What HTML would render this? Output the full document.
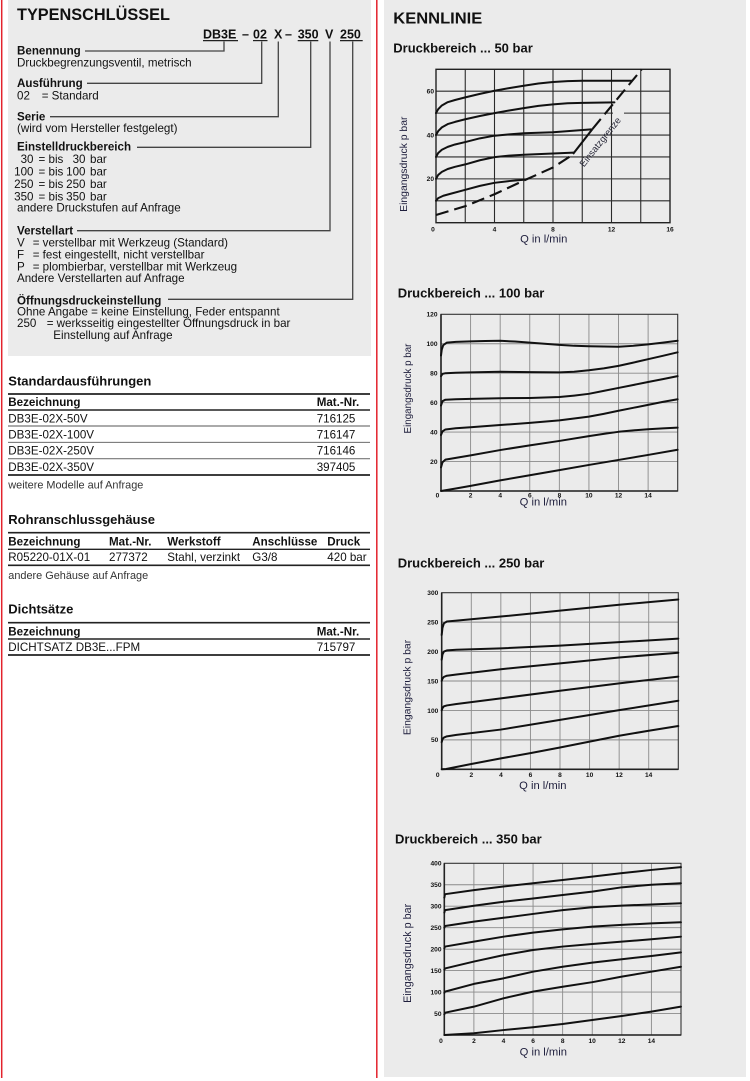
<!DOCTYPE html>
<html><head><meta charset="utf-8"><style>
html,body{margin:0;padding:0;background:#fff;}
svg{display:block;}
text{font-family:"Liberation Sans",Arial,sans-serif;fill:#111;}
.b{font-weight:bold;}
.t{font-size:11.6px;}
.tk{font-size:6.6px;font-weight:bold;}
.ax{font-size:11.2px;fill:#1e1e3c;}
.yl{fill:#1e1e3c;}
.cv{fill:none;stroke:#111;stroke-width:2;stroke-linejoin:round;stroke-linecap:round;}
.g1{stroke:#2a2a2a;stroke-width:1.1;}
.g2{stroke:#8a8a8a;stroke-width:0.9;}
.cn{stroke:#444;stroke-width:1.3;fill:none;}
</style></head><body>
<svg width="750" height="1081" viewBox="0 0 750 1081" xmlns="http://www.w3.org/2000/svg">
<rect x="0" y="0" width="750" height="1081" fill="#fff"/>
<!-- panels -->
<rect x="8" y="0" width="363" height="356" fill="#ebebeb"/>
<rect x="384" y="0" width="362" height="1077" fill="#ebebeb"/>
<line x1="1.7" y1="0" x2="1.7" y2="1078" stroke="#e3222c" stroke-width="1.5"/>
<line x1="376.8" y1="0" x2="376.8" y2="1078" stroke="#e3222c" stroke-width="1.5"/>

<!-- TYPENSCHLÜSSEL -->
<text x="17" y="20" class="b" font-size="16.3">TYPENSCHLÜSSEL</text>
<g class="b" font-size="12.5">
<text x="203" y="38.3">DB3E</text>
<text x="242" y="38.3">–</text>
<text x="253" y="38.3">02</text>
<text x="274" y="38.3">X</text>
<text x="285" y="38.3">–</text>
<text x="297.7" y="38.3">350</text>
<text x="325" y="38.3">V</text>
<text x="340" y="38.3">250</text>
</g>
<g stroke="#222" stroke-width="1.2">
<line x1="203" y1="40.6" x2="238" y2="40.6"/>
<line x1="253" y1="40.6" x2="267.5" y2="40.6"/>
<line x1="297.7" y1="40.6" x2="318.3" y2="40.6"/>
<line x1="340" y1="40.6" x2="362.7" y2="40.6"/>
</g>
<!-- connectors -->
<polyline class="cn" points="85,51 224,51 224,41.5"/>
<polyline class="cn" points="87,83.3 261.7,83.3 261.7,41.5"/>
<polyline class="cn" points="50,116.7 278.3,116.7 278.3,41.5"/>
<polyline class="cn" points="137,147.3 310.7,147.3 310.7,41.5"/>
<polyline class="cn" points="77,230.7 330,230.7 330,41.5"/>
<polyline class="cn" points="168,299.3 352.7,299.3 352.7,41.5"/>

<g class="t">
<text x="17" y="54.5" class="b">Benennung</text>
<text x="17" y="66.5">Druckbegrenzungsventil, metrisch</text>
<text x="17" y="87" class="b">Ausführung</text>
<text x="17" y="99.5">02</text><text x="41.7" y="99.5">= Standard</text>
<text x="17" y="120.5" class="b">Serie</text>
<text x="17" y="132">(wird vom Hersteller festgelegt)</text>
<text x="17" y="150.5" class="b">Einstelldruckbereich</text>
<text x="33.5" y="163" text-anchor="end">30</text><text x="38.5" y="163">= bis</text><text x="85.5" y="163" text-anchor="end">30</text><text x="90" y="163">bar</text>
<text x="33.5" y="175.5" text-anchor="end">100</text><text x="38.5" y="175.5">= bis</text><text x="85.5" y="175.5" text-anchor="end">100</text><text x="90" y="175.5">bar</text>
<text x="33.5" y="188" text-anchor="end">250</text><text x="38.5" y="188">= bis</text><text x="85.5" y="188" text-anchor="end">250</text><text x="90" y="188">bar</text>
<text x="33.5" y="200.3" text-anchor="end">350</text><text x="38.5" y="200.3">= bis</text><text x="85.5" y="200.3" text-anchor="end">350</text><text x="90" y="200.3">bar</text>
<text x="17" y="211.5">andere Druckstufen auf Anfrage</text>
<text x="17" y="234.5" class="b">Verstellart</text>
<text x="17" y="246.5">V</text><text x="32.7" y="246.5">= verstellbar mit Werkzeug (Standard)</text>
<text x="17" y="258.3">F</text><text x="32.7" y="258.3">= fest eingestellt, nicht verstellbar</text>
<text x="17" y="270.3">P</text><text x="32.7" y="270.3">= plombierbar, verstellbar mit Werkzeug</text>
<text x="17" y="282.2">Andere Verstellarten auf Anfrage</text>
<text x="17" y="304.5" class="b">Öffnungsdruckeinstellung</text>
<text x="17" y="315.5">Ohne Angabe = keine Einstellung, Feder entspannt</text>
<text x="17" y="327.2">250</text><text x="46.7" y="327.2">= werksseitig eingestellter Öffnungsdruck in bar</text>
<text x="53.3" y="339.2">Einstellung auf Anfrage</text>
</g>

<!-- Tables -->
<text x="8.3" y="385.3" class="b" font-size="13">Standardausführungen</text>
<line x1="8" y1="394" x2="370" y2="394" stroke="#222" stroke-width="1.7"/>
<g class="t">
<text x="8.3" y="406" class="b">Bezeichnung</text><text x="316.7" y="406" class="b">Mat.-Nr.</text>
<text x="8.3" y="422.7">DB3E-02X-50V</text><text x="316.7" y="422.7">716125</text>
<text x="8.3" y="438.7">DB3E-02X-100V</text><text x="316.7" y="438.7">716147</text>
<text x="8.3" y="454.7">DB3E-02X-250V</text><text x="316.7" y="454.7">716146</text>
<text x="8.3" y="471">DB3E-02X-350V</text><text x="316.7" y="471">397405</text>
</g>
<line x1="8" y1="410" x2="370" y2="410" stroke="#222" stroke-width="1.4"/>
<line x1="8" y1="426" x2="370" y2="426" stroke="#555" stroke-width="0.9"/>
<line x1="8" y1="442.3" x2="370" y2="442.3" stroke="#555" stroke-width="0.9"/>
<line x1="8" y1="458.7" x2="370" y2="458.7" stroke="#777" stroke-width="1.1"/>
<line x1="8" y1="475" x2="370" y2="475" stroke="#222" stroke-width="1.7"/>
<text x="8.3" y="488.3" font-size="10.9" style="fill:#333">weitere Modelle auf Anfrage</text>

<text x="8.3" y="524" class="b" font-size="13">Rohranschlussgehäuse</text>
<line x1="8" y1="532.7" x2="370" y2="532.7" stroke="#222" stroke-width="1.7"/>
<g class="t">
<text x="8.3" y="545.3" class="b">Bezeichnung</text><text x="109" y="545.3" class="b">Mat.-Nr.</text><text x="167.3" y="545.3" class="b">Werkstoff</text><text x="252.3" y="545.3" class="b">Anschlüsse</text><text x="327.3" y="545.3" class="b">Druck</text>
<text x="8.3" y="561">R05220-01X-01</text><text x="109" y="561">277372</text><text x="167.3" y="561">Stahl, verzinkt</text><text x="252.3" y="561">G3/8</text><text x="327.3" y="561">420 bar</text>
</g>
<line x1="8" y1="549.3" x2="370" y2="549.3" stroke="#222" stroke-width="1.4"/>
<line x1="8" y1="565.3" x2="370" y2="565.3" stroke="#222" stroke-width="1.7"/>
<text x="8.3" y="579" font-size="10.9" style="fill:#333">andere Gehäuse auf Anfrage</text>

<text x="8.3" y="613.3" class="b" font-size="13">Dichtsätze</text>
<line x1="8" y1="622.7" x2="370" y2="622.7" stroke="#222" stroke-width="1.7"/>
<g class="t">
<text x="8.3" y="635.3" class="b">Bezeichnung</text><text x="316.7" y="635.3" class="b">Mat.-Nr.</text>
<text x="8.3" y="651">DICHTSATZ DB3E...FPM</text><text x="316.7" y="651">715797</text>
</g>
<line x1="8" y1="639" x2="370" y2="639" stroke="#222" stroke-width="1.4"/>
<line x1="8" y1="655" x2="370" y2="655" stroke="#222" stroke-width="1.7"/>

<!-- RIGHT: KENNLINIE -->
<text x="393.3" y="23.3" class="b" font-size="16" textLength="89" lengthAdjust="spacingAndGlyphs">KENNLINIE</text>

<!-- Chart 1: 50 bar -->
<text x="393.3" y="52.7" class="b" font-size="13">Druckbereich ... 50 bar</text>
<g class="g1">
<line x1="465.25" y1="69.3" x2="465.25" y2="222.7"/><line x1="494.5" y1="69.3" x2="494.5" y2="222.7"/>
<line x1="523.75" y1="69.3" x2="523.75" y2="222.7"/><line x1="553" y1="69.3" x2="553" y2="222.7"/>
<line x1="582.25" y1="69.3" x2="582.25" y2="222.7"/><line x1="611.5" y1="69.3" x2="611.5" y2="222.7"/>
<line x1="640.75" y1="69.3" x2="640.75" y2="222.7"/>
<line x1="436" y1="200.79" x2="670" y2="200.79"/><line x1="436" y1="178.87" x2="670" y2="178.87"/>
<line x1="436" y1="156.96" x2="670" y2="156.96"/><line x1="436" y1="135.04" x2="670" y2="135.04"/>
<line x1="436" y1="113.13" x2="613" y2="113.13"/><line x1="624" y1="113.13" x2="670" y2="113.13"/>
<line x1="436" y1="91.22" x2="670" y2="91.22"/>
</g>
<rect x="436" y="69.3" width="234" height="153.4" fill="none" stroke="#222" stroke-width="1.4"/>
<g transform="translate(436,222.7) scale(14.625,-2.1914)">
<polyline class="cv" vector-effect="non-scaling-stroke" points="0,50 0.15,51.8 0.4,53.5 0.8,55 1.3,56 2,57.2 3,58.8 4,60.2 5,61.4 6,62.5 7,63.5 8,64.2 9,64.6 10,64.8 13.4,64.8"/>
<polyline class="cv" vector-effect="non-scaling-stroke" points="0,40 0.15,41.8 0.4,43.5 0.8,45 1.3,46 2,47.2 3,48.7 4,50 5,51.2 6,52.3 7,53.3 8,54 9,54.5 10,54.7 12.2,54.9"/>
<polyline class="cv" vector-effect="non-scaling-stroke" points="0,30 0.15,31.8 0.4,33.3 0.8,34.6 1.3,35.7 2,36.8 3,38.5 4,39.7 5,40.3 6,40.8 8,41.3 10.6,42.6"/>
<polyline class="cv" vector-effect="non-scaling-stroke" points="0,20 0.15,21.8 0.4,23.2 0.8,24.5 1.3,25.5 2,26.6 3,28.5 4,29.9 5,30.6 6,31 8,31.6 9.4,32"/>
<polyline class="cv" vector-effect="non-scaling-stroke" points="0,10 0.15,11.2 0.5,12.3 1,13.2 2,15 3,16.8 4,18.2 5,19 6,19.6"/>
</g>
<polyline points="436,215 465,206.3 495,194 525,180 553,167.5 573,154.5" fill="none" stroke="#111" stroke-width="2.1" stroke-dasharray="13,6"/>
<polyline points="573,154 592.5,129" fill="none" stroke="#111" stroke-width="2.1"/>
<polyline points="592.5,129 641.7,69.3" fill="none" stroke="#111" stroke-width="2.1" stroke-dasharray="13,6"/>
<text transform="translate(584,167.5) rotate(-51.5)" font-size="9.5" style="fill:#2a2a3a">Einsatzgrenze</text>
<g class="tk">
<text x="434" y="181.2" text-anchor="end">20</text>
<text x="434" y="137.4" text-anchor="end">40</text>
<text x="434" y="93.6" text-anchor="end">60</text>
<text x="433" y="231.7" text-anchor="middle">0</text>
<text x="494.5" y="231.7" text-anchor="middle">4</text>
<text x="553" y="231.7" text-anchor="middle">8</text>
<text x="611.5" y="231.7" text-anchor="middle">12</text>
<text x="670" y="231.7" text-anchor="middle">16</text>
</g>
<text x="543.7" y="242.5" text-anchor="middle" class="ax">Q in l/min</text>
<text transform="translate(403.3,164.2) rotate(-90)" text-anchor="middle" dy="0.36em" font-size="10.4" class="yl">Eingangsdruck p bar</text>

<!-- Chart 2: 100 bar -->
<text x="397.7" y="297.3" class="b" font-size="13">Druckbereich ... 100 bar</text>
<g class="g2">
<line x1="470.59" y1="314.3" x2="470.59" y2="491"/><line x1="500.18" y1="314.3" x2="500.18" y2="491"/>
<line x1="529.76" y1="314.3" x2="529.76" y2="491"/><line x1="559.35" y1="314.3" x2="559.35" y2="491"/>
<line x1="588.94" y1="314.3" x2="588.94" y2="491"/><line x1="618.53" y1="314.3" x2="618.53" y2="491"/>
<line x1="648.11" y1="314.3" x2="648.11" y2="491"/>
<line x1="441" y1="461.55" x2="677.7" y2="461.55"/><line x1="441" y1="432.1" x2="677.7" y2="432.1"/>
<line x1="441" y1="402.65" x2="677.7" y2="402.65"/><line x1="441" y1="373.2" x2="677.7" y2="373.2"/>
<line x1="441" y1="343.75" x2="677.7" y2="343.75"/>
</g>
<rect x="441" y="314.3" width="236.7" height="176.7" fill="none" stroke="#333" stroke-width="1.1"/>
<line x1="441" y1="314.3" x2="441" y2="491" stroke="#222" stroke-width="1.6"/>
<line x1="441" y1="491" x2="677.7" y2="491" stroke="#222" stroke-width="1.6"/>
<g transform="translate(441,491) scale(14.79,-1.4725)">
<polyline class="cv" vector-effect="non-scaling-stroke" points="0,92 0.05,96 0.15,99 0.4,100.8 1,101.3 2,101.6 3,101.9 4,102 5,101.5 6,100.8 7,100 8,99.2 9,98.6 10,98.3 11,98.1 12,98 13,98.6 14,99.6 15,100.8 16,102"/>
<polyline class="cv" vector-effect="non-scaling-stroke" points="0,78 0.1,79.5 0.3,80 1,80.3 2,80.6 4,81 6,80.7 8,80.6 9,81 10,82 11,83.3 12,85 13,87.2 14,89.5 15,91.8 16,94.2"/>
<polyline class="cv" vector-effect="non-scaling-stroke" points="0,58 0.1,61 0.3,62 1,62.3 2,62.6 4,63 6,63.2 8,63.8 9,64.8 10,66 11,68 12,70 13,72 14,74 15,76 16,78"/>
<polyline class="cv" vector-effect="non-scaling-stroke" points="0,38 0.1,40.5 0.3,41.8 1,42.6 2,43.3 4,44.8 6,46.3 8,48 9,49.2 10,50.5 11,52.4 12,54.5 13,56.5 14,58.5 15,60.5 16,62.3"/>
<polyline class="cv" vector-effect="non-scaling-stroke" points="0,16 0.1,19.5 0.3,21.3 1,22.5 2,24.2 4,27.8 6,31 8,34 10,37.3 11,38.8 12,40.2 13,41.2 14,41.9 15,42.5 16,43"/>
<polyline class="cv" vector-effect="non-scaling-stroke" points="0,0 1,1.7 2,3.5 4,7.2 6,10.7 8,14.2 10,17.7 12,21.1 14,24.5 16,28"/>
</g>
<g class="tk">
<text x="437.5" y="463.9" text-anchor="end">20</text>
<text x="437.5" y="434.4" text-anchor="end">40</text>
<text x="437.5" y="405" text-anchor="end">60</text>
<text x="437.5" y="375.5" text-anchor="end">80</text>
<text x="437.5" y="346.1" text-anchor="end">100</text>
<text x="437.5" y="316.6" text-anchor="end">120</text>
<text x="437.5" y="497.5" text-anchor="middle">0</text>
<text x="470.6" y="497.5" text-anchor="middle">2</text>
<text x="500.2" y="497.5" text-anchor="middle">4</text>
<text x="529.8" y="497.5" text-anchor="middle">6</text>
<text x="559.4" y="497.5" text-anchor="middle">8</text>
<text x="588.9" y="497.5" text-anchor="middle">10</text>
<text x="618.5" y="497.5" text-anchor="middle">12</text>
<text x="648.1" y="497.5" text-anchor="middle">14</text>
</g>
<text x="543.3" y="505.5" text-anchor="middle" class="ax">Q in l/min</text>
<text transform="translate(407.3,388.5) rotate(-90)" text-anchor="middle" dy="0.36em" font-size="9.8" class="yl">Eingangsdruck p bar</text>

<!-- Chart 3: 250 bar -->
<text x="397.7" y="567.3" class="b" font-size="13">Druckbereich ... 250 bar</text>
<g class="g2">
<line x1="471.28" y1="592.7" x2="471.28" y2="769.3"/><line x1="500.85" y1="592.7" x2="500.85" y2="769.3"/>
<line x1="530.43" y1="592.7" x2="530.43" y2="769.3"/><line x1="560" y1="592.7" x2="560" y2="769.3"/>
<line x1="589.58" y1="592.7" x2="589.58" y2="769.3"/><line x1="619.15" y1="592.7" x2="619.15" y2="769.3"/>
<line x1="648.73" y1="592.7" x2="648.73" y2="769.3"/>
<line x1="441.7" y1="739.87" x2="678.3" y2="739.87"/><line x1="441.7" y1="710.43" x2="678.3" y2="710.43"/>
<line x1="441.7" y1="681" x2="678.3" y2="681"/><line x1="441.7" y1="651.57" x2="678.3" y2="651.57"/>
<line x1="441.7" y1="622.13" x2="678.3" y2="622.13"/>
</g>
<rect x="441.7" y="592.7" width="236.6" height="176.6" fill="none" stroke="#333" stroke-width="1.1"/>
<line x1="441.7" y1="592.7" x2="441.7" y2="769.3" stroke="#222" stroke-width="1.6"/>
<line x1="441.7" y1="769.3" x2="678.3" y2="769.3" stroke="#222" stroke-width="1.6"/>
<g transform="translate(441.7,769.3) scale(14.7875,-0.5887)">
<polyline class="cv" vector-effect="non-scaling-stroke" points="0,228 0.05,240 0.15,248 0.35,251 1,252.5 4,259.5 8,269.5 12,279.5 16,288.5"/>
<polyline class="cv" vector-effect="non-scaling-stroke" points="0,186 0.05,195 0.15,200 0.35,202 1,203 4,205.5 8,210 12,216 16,222"/>
<polyline class="cv" vector-effect="non-scaling-stroke" points="0,150 0.05,154 0.15,157 0.35,159 1,161 4,170 8,180 12,190 16,198"/>
<polyline class="cv" vector-effect="non-scaling-stroke" points="0,100 0.05,104 0.15,107 0.35,108.5 1,111 4,120.5 8,133.5 12,146 16,157.5"/>
<polyline class="cv" vector-effect="non-scaling-stroke" points="0,46 0.05,51 0.15,54 0.35,56 1,58.5 4,67.5 8,84 12,100.5 16,116.5"/>
<polyline class="cv" vector-effect="non-scaling-stroke" points="0,0 0.3,0.5 2,9 4,18.5 6,27.5 8,37 10,47 12,57 14,65.5 16,73.5"/>
</g>
<g class="tk">
<text x="438.3" y="742.2" text-anchor="end">50</text>
<text x="438.3" y="712.8" text-anchor="end">100</text>
<text x="438.3" y="683.3" text-anchor="end">150</text>
<text x="438.3" y="653.9" text-anchor="end">200</text>
<text x="438.3" y="624.5" text-anchor="end">250</text>
<text x="438.3" y="595" text-anchor="end">300</text>
<text x="437.7" y="777" text-anchor="middle">0</text>
<text x="471.3" y="777" text-anchor="middle">2</text>
<text x="500.9" y="777" text-anchor="middle">4</text>
<text x="530.4" y="777" text-anchor="middle">6</text>
<text x="560" y="777" text-anchor="middle">8</text>
<text x="589.6" y="777" text-anchor="middle">10</text>
<text x="619.2" y="777" text-anchor="middle">12</text>
<text x="648.7" y="777" text-anchor="middle">14</text>
</g>
<text x="542.8" y="789" text-anchor="middle" class="ax">Q in l/min</text>
<text transform="translate(406.7,687.5) rotate(-90)" text-anchor="middle" dy="0.36em" font-size="10.4" class="yl">Eingangsdruck p bar</text>

<!-- Chart 4: 350 bar -->
<text x="395" y="843.3" class="b" font-size="13">Druckbereich ... 350 bar</text>
<g class="g2">
<line x1="473.89" y1="863.3" x2="473.89" y2="1035"/><line x1="503.48" y1="863.3" x2="503.48" y2="1035"/>
<line x1="533.06" y1="863.3" x2="533.06" y2="1035"/><line x1="562.65" y1="863.3" x2="562.65" y2="1035"/>
<line x1="592.24" y1="863.3" x2="592.24" y2="1035"/><line x1="621.83" y1="863.3" x2="621.83" y2="1035"/>
<line x1="651.41" y1="863.3" x2="651.41" y2="1035"/>
<line x1="444.3" y1="1013.54" x2="681" y2="1013.54"/><line x1="444.3" y1="992.08" x2="681" y2="992.08"/>
<line x1="444.3" y1="970.61" x2="681" y2="970.61"/><line x1="444.3" y1="949.15" x2="681" y2="949.15"/>
<line x1="444.3" y1="927.69" x2="681" y2="927.69"/><line x1="444.3" y1="906.23" x2="681" y2="906.23"/>
<line x1="444.3" y1="884.76" x2="681" y2="884.76"/>
</g>
<rect x="444.3" y="863.3" width="236.7" height="171.7" fill="none" stroke="#333" stroke-width="1.1"/>
<line x1="444.3" y1="863.3" x2="444.3" y2="1035" stroke="#222" stroke-width="1.6"/>
<line x1="444.3" y1="1035" x2="681" y2="1035" stroke="#222" stroke-width="1.6"/>
<g transform="translate(444.3,1035) scale(14.79,-0.4293)">
<polyline class="cv" vector-effect="non-scaling-stroke" points="0,320 0.05,328 2,337.5 4,346 6,353.5 8,361 10,369 12,377 14,384.5 16,391"/>
<polyline class="cv" vector-effect="non-scaling-stroke" points="0,285 0.05,291 2,301 4,310.5 6,318 8,326 10,334 12,344 14,350 16,353.5"/>
<polyline class="cv" vector-effect="non-scaling-stroke" points="0,250 0.05,254 2,264 4,273 6,282 8,291 10,297.5 12,301.5 14,304 16,307"/>
<polyline class="cv" vector-effect="non-scaling-stroke" points="0,202 0.05,206 2,217.5 4,229 6,238.5 8,246 10,252.5 12,256.5 14,260 16,262.5"/>
<polyline class="cv" vector-effect="non-scaling-stroke" points="0,152 0.05,155 2,171 4,186 6,198 8,206 10,212 12,217.5 14,223 16,229"/>
<polyline class="cv" vector-effect="non-scaling-stroke" points="0,98 0.05,101 2,119 4,132 6,147.5 8,159 10,168.5 12,176.5 14,184 16,192.5"/>
<polyline class="cv" vector-effect="non-scaling-stroke" points="0,48 0.05,52 2,66 4,85.5 6,101 8,112.5 10,123 12,136 14,147.5 16,159"/>
<polyline class="cv" vector-effect="non-scaling-stroke" points="0,0 2,4 4,11.5 6,18 8,25.5 10,35 12,44.3 14,54.4 16,66"/>
</g>
<g class="tk">
<text x="441.5" y="1015.9" text-anchor="end">50</text>
<text x="441.5" y="994.4" text-anchor="end">100</text>
<text x="441.5" y="972.9" text-anchor="end">150</text>
<text x="441.5" y="951.5" text-anchor="end">200</text>
<text x="441.5" y="930" text-anchor="end">250</text>
<text x="441.5" y="908.5" text-anchor="end">300</text>
<text x="441.5" y="887.1" text-anchor="end">350</text>
<text x="441.5" y="865.6" text-anchor="end">400</text>
<text x="441" y="1043" text-anchor="middle">0</text>
<text x="473.9" y="1043" text-anchor="middle">2</text>
<text x="503.5" y="1043" text-anchor="middle">4</text>
<text x="533.1" y="1043" text-anchor="middle">6</text>
<text x="562.7" y="1043" text-anchor="middle">8</text>
<text x="592.2" y="1043" text-anchor="middle">10</text>
<text x="621.8" y="1043" text-anchor="middle">12</text>
<text x="651.4" y="1043" text-anchor="middle">14</text>
</g>
<text x="543.3" y="1055.5" text-anchor="middle" class="ax">Q in l/min</text>
<text transform="translate(407.3,953.3) rotate(-90)" text-anchor="middle" dy="0.36em" font-size="10.8" class="yl">Eingangsdruck p bar</text>
</svg>
</body></html>
